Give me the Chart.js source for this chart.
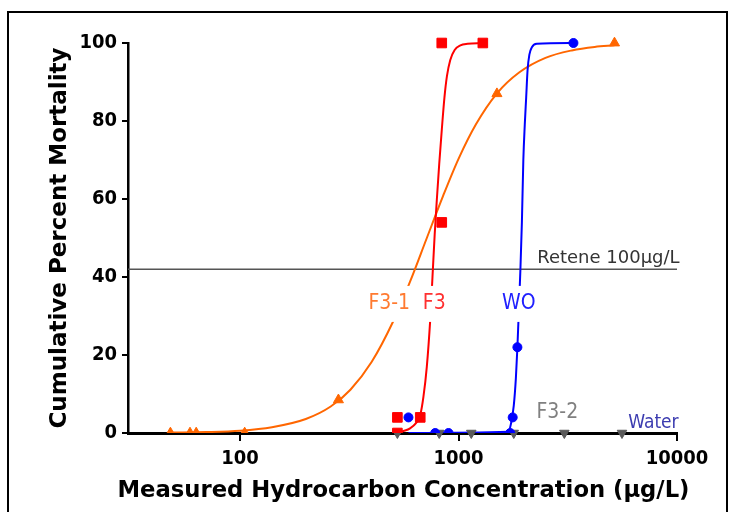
<!DOCTYPE html>
<html>
<head>
<meta charset="utf-8">
<script src="https://cdn.jsdelivr.net/npm/chart.js@4.4.1/dist/chart.umd.min.js"></script>
<style>
  html, body { margin: 0; padding: 0; background: #fff; }
  canvas { display: block; }
</style>
</head>
<body>
<canvas id="mortality" width="730" height="512"></canvas>
<script>
// measured points (concentration ug/L, % mortality)
const f3Conc = [525, 525, 668, 838, 838, 1292];
const f3Mort = [0, 4, 4, 54, 100, 100];
const woConc = [590, 782, 900, 1724, 1770, 1860, 3357];
const woMort = [4, 0, 0, 0, 4, 22, 100];
const f31Conc = [48, 59, 63, 105, 282, 1499, 5175];
const f31Mort = [0, 0, 0, 0, 8.5, 87, 100];
const f32Conc = [525, 816, 1144, 1790, 3050, 5600];
const f32Mort = [0, 0, 0, 0, 0, 0];

// fitted dose-response curves, read along their length
const f3CurveX = [525, 560, 600, 640, 668, 691, 716, 742, 760, 778, 796, 816, 839, 862, 885, 916, 960, 1020, 1100, 1292];
const f3CurveY = [0, 0.5, 1.2, 2.6, 4.6, 9.3, 17, 29, 40, 51, 60, 69, 78, 86, 91.5, 95.6, 98.2, 99.4, 99.8, 100];
const woCurveX = [590, 1690, 1740, 1790, 1830, 1860, 1890, 1920, 1950, 1980, 2010, 2040, 2070, 2110, 2170, 2280, 3357];
const woCurveY = [0, 0.3, 2.5, 7, 14, 22, 32, 42, 54, 70, 79, 86, 93, 97, 99, 99.8, 100];
const f31CurveX = [48, 70, 100, 140, 200, 260, 320, 400, 500, 600, 716, 850, 1000, 1200, 1500, 1900, 2500, 3300, 4200, 5175];
const f31CurveY = [0.1, 0.25, 0.6, 1.5, 3.6, 6.8, 11.1, 18.2, 28.4, 38.8, 50, 60.8, 70.3, 79.1, 87.1, 92.5, 96.2, 98.1, 99, 99.4];

// Retene 100 ug/L reference level
const reteneLevel = 42;

const xTicks = [100, 1000, 10000];
const xMin = 30.7;
const xMax = 10000;
const xTitle = 'Measured Hydrocarbon Concentration (\u00b5g/L)';

const COND = '"DejaVu Sans Condensed", "DejaVu Sans", sans-serif';
const WIDE = '"DejaVu Sans", sans-serif';
const ORANGE = '#ff6600';
const RED = '#ff0000';
const BLUE = '#0000ff';
const GREY = '#5a5a5a';

const pts = (xs, ys) => xs.map((x, i) => ({ x, y: ys[i] }));

const notes = [
  { text: 'F3-1', x: 482, y: 33.1, color: '#ff7a30', font: '21px ' + COND, align: 'center', box: true },
  { text: 'F3', x: 774, y: 33.1, color: '#ff3030', font: '21px ' + COND, align: 'center', box: true },
  { text: 'WO', x: 1888, y: 33.1, color: '#2020ff', font: '21px ' + COND, align: 'center', box: true },
  { text: 'F3-2', x: 2832, y: 5.2, color: '#808080', font: '21px ' + COND, align: 'center' },
  { text: 'Water', x: 7800, y: 2.6, color: '#3c3cb0', font: '19px ' + COND, align: 'center' },
  { text: 'Retene 100\u00b5g/L', x: 2291, y: 44.9, color: '#333333', font: '18px ' + WIDE, align: 'left' }
];

// white page, outer frame and the x-axis title (wider than the plot area)
const frame = {
  id: 'frame',
  beforeDraw(chart) {
    const { ctx } = chart;
    ctx.save();
    ctx.fillStyle = '#fff';
    ctx.fillRect(0, 0, chart.width, chart.height);
    ctx.strokeStyle = '#000';
    ctx.lineWidth = 2;
    ctx.strokeRect(8, 12, 719, 600);
    ctx.restore();
  },
  afterDraw(chart) {
    const { ctx, chartArea } = chart;
    ctx.save();
    ctx.font = 'bold 23px ' + WIDE;
    ctx.fillStyle = '#000';
    ctx.textAlign = 'center';
    ctx.textBaseline = 'middle';
    ctx.fillText(xTitle, (chartArea.left + chartArea.right) / 2 + 1, 491, 572);
    ctx.restore();
  }
};

const seriesLabels = {
  id: 'seriesLabels',
  afterDatasetsDraw(chart) {
    const { ctx, scales: { x, y } } = chart;
    ctx.save();
    ctx.textBaseline = 'middle';
    notes.forEach(n => {
      ctx.font = n.font;
      const px = x.getPixelForValue(n.x);
      const py = y.getPixelForValue(n.y);
      const w = ctx.measureText(n.text).width;
      if (n.box) {
        ctx.fillStyle = '#fff';
        ctx.fillRect(px - w / 2 - 3, py - 18, w + 6, 36);
      }
      ctx.fillStyle = n.color;
      ctx.textAlign = n.align;
      ctx.fillText(n.text, px, py);
    });
    ctx.restore();
  }
};

const curve = (data, color, order) => ({
  type: 'line',
  data,
  borderColor: color,
  borderWidth: 2,
  pointRadius: 0,
  cubicInterpolationMode: 'monotone',
  fill: false,
  order,
  clip: { left: 0, top: 6, right: 6, bottom: 0 }
});

const markers = (data, color, style, radius, rotation, order, below = 0) => ({
  type: 'scatter',
  data,
  backgroundColor: color,
  borderColor: color,
  borderWidth: 1,
  pointStyle: style,
  pointRadius: radius,
  rotation,
  order,
  clip: { left: 0, top: 10, right: 10, bottom: below }
});

new Chart(document.getElementById('mortality'), {
  type: 'scatter',
  data: {
    datasets: [
      markers(pts(f3Conc, f3Mort), RED, 'rect', 6.8, 0, 1),
      markers(pts(woConc, woMort), BLUE, 'circle', 4.5, 0, 2),
      markers(pts(f31Conc, f31Mort), ORANGE, 'triangle', 5.8, 0, 3),
      markers(pts(f32Conc, f32Mort), GREY, 'triangle', 5.5, 180, 4, 10),
      curve(pts(f3CurveX, f3CurveY), RED, 5),
      curve(pts(woCurveX, woCurveY), BLUE, 6),
      curve(pts(f31CurveX, f31CurveY), ORANGE, 7),
      {
        type: 'line',
        data: [{ x: xMin, y: reteneLevel }, { x: xMax, y: reteneLevel }],
        borderColor: '#555555',
        borderWidth: 1.5,
        pointRadius: 0,
        order: 8,
        clip: { left: 0, top: 0, right: 4, bottom: 0 }
      }
    ]
  },
  options: {
    responsive: false,
    animation: false,
    events: [],
    layout: { padding: { top: 43, right: 53, left: 0, bottom: 0 } },
    plugins: { legend: { display: false }, tooltip: { enabled: false } },
    scales: {
      x: {
        type: 'logarithmic',
        min: xMin,
        max: xMax,
        afterBuildTicks: scale => { scale.ticks = xTicks.map(v => ({ value: v })); },
        afterFit: scale => { scale.height = 79; },
        ticks: {
          color: '#000',
          padding: 6,
          autoSkip: false,
          maxRotation: 0,
          font: { family: COND, size: 20, weight: 'bold' },
          callback: v => String(v)
        },
        grid: { drawOnChartArea: false, drawTicks: true, tickLength: 8, color: '#000', lineWidth: 2 },
        border: { display: true, color: '#000', width: 3 }
      },
      y: {
        min: 0,
        max: 100,
        afterFit: scale => { scale.width = 128; },
        ticks: {
          stepSize: 20,
          color: '#000',
          padding: 5,
          font: { family: COND, size: 20, weight: 'bold' }
        },
        grid: { drawOnChartArea: false, drawTicks: true, tickLength: 6, color: '#000', lineWidth: 2 },
        border: { display: true, color: '#000', width: 2.5 },
        title: {
          display: true,
          text: 'Cumulative Percent Mortality',
          color: '#000',
          font: { family: WIDE, size: 23, weight: 'bold' },
          padding: { top: 46, bottom: 0 }
        }
      }
    }
  },
  plugins: [frame, seriesLabels]
});
</script>
</body>
</html>
